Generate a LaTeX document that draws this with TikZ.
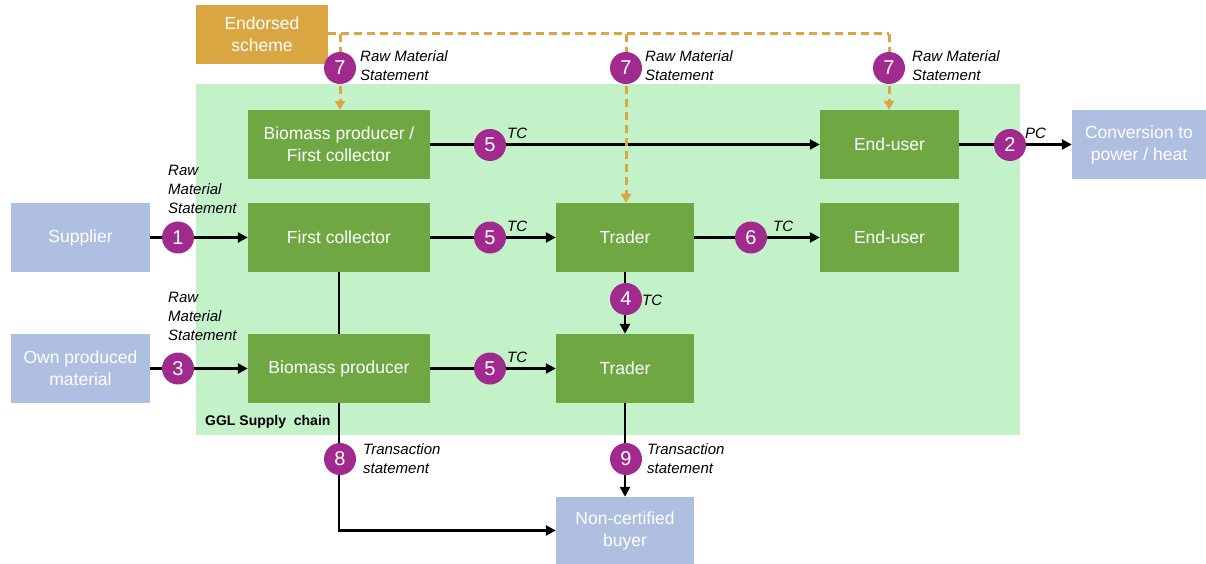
\documentclass[tikz,border=0pt]{standalone}
\usepackage{fontspec}
\setmainfont{Liberation Sans}
\usetikzlibrary{arrows.meta}
\definecolor{gbox}{HTML}{6FA843}
\definecolor{gbg}{HTML}{C3F1C8}
\definecolor{bbox}{HTML}{AEBFE2}
\definecolor{gold}{HTML}{DAA641}
\definecolor{purp}{HTML}{A12A8F}
\tikzset{
  box/.style={rectangle, minimum width=#1, minimum height=69pt, inner sep=0pt, align=center, text=white, font=\fontsize{17.5}{22}\selectfont},
  box/.default=182pt,
  gnode/.style={box=#1, fill=gbox},
  gnode/.default=182pt,
  bnode/.style={box=#1, fill=bbox},
  bnode/.default=139pt,
  num/.style={circle, fill=purp, minimum size=32pt, inner sep=0pt, text=white, font=\fontsize{20}{20}\selectfont},
  lbl/.style={anchor=west, align=left, inner sep=0pt, font=\fontsize{15}{19}\selectfont\itshape},
  arr/.style={line width=2.8pt, -{Triangle[length=10pt,width=10pt]}},
  plain/.style={line width=2.8pt},
  dsh/.style={gold, line width=3pt, dash pattern=on 8pt off 5pt},
  darr/.style={dsh, -{Triangle[length=9pt,width=10pt]}}
}
\begin{document}
\begin{tikzpicture}[x=1pt,y=-1pt]
\useasboundingbox (0,0) rectangle (1206,564);
% background
\fill[gbg] (196,84) rectangle (1020,435);
\node[anchor=west, inner sep=0pt, font=\fontsize{14}{14}\selectfont\bfseries] (ggl) at (205,422) {GGL Supply\ \ chain};
% boxes
\node[box=132pt, minimum height=59pt, fill=gold] (es) at (262,34.5) {Endorsed\\scheme};
\node[gnode] (bpfc) at (339,144.5) {Biomass producer /\\First collector};
\node[gnode=139pt] (eu1) at (889.5,144.5) {End-user};
\node[bnode=134pt] (conv) at (1139,144.5) {Conversion to\\power / heat};
\node[bnode] (sup) at (80.5,237.5) {Supplier};
\node[gnode] (fc) at (339,237.5) {First collector};
\node[gnode=138pt] (tr1) at (625,237.5) {Trader};
\node[gnode=139pt] (eu2) at (889.5,237.5) {End-user};
\node[bnode] (own) at (80.5,368.5) {Own produced\\material};
\node[gnode] (bp) at (339,368.5) {Biomass producer};
\node[gnode=138pt] (tr2) at (625,368.5) {Trader};
\node[bnode=138pt, minimum height=67pt] (ncb) at (625,530.5) {Non-certified\\buyer};
% coordinates for dashed lines
\coordinate (d0) at (es.east |- 0,34);
\coordinate (d1) at (340,34);
\coordinate (d2) at (626,34);
\coordinate (d3) at (889,34);
% connectors
\draw[arr] (bpfc) -- (eu1);
\draw[arr] (eu1) -- (conv);
\draw[arr] (sup) -- (fc);
\draw[arr] (fc) -- (tr1);
\draw[arr] (tr1) -- (eu2);
\draw[arr] (tr1) -- (tr2);
\draw[plain] (fc.south) -- (bp.north);
\draw[arr] (own) -- (bp);
\draw[arr] (bp) -- (tr2);
\draw[arr] (bp.south) |- (ncb.west);
\draw[arr] (tr2) -- (ncb);
\draw[dsh] (d0) -- (d3);
\draw[darr] (d1) -- (d1 |- bpfc.north);
\draw[darr] (d2) -- (d2 |- tr1.north);
\draw[darr] (d3) -- (d3 |- eu1.north);
% numbered circles
\node[num] (n7a) at (340,68) {7};
\node[num] (n7b) at (626,68) {7};
\node[num] (n7c) at (889,68) {7};
\node[num] (n5a) at (490,145) {5};
\node[num] (n2) at (1010,145) {2};
\node[num] (n1) at (178,237.5) {1};
\node[num] (n5b) at (490,237.5) {5};
\node[num] (n6) at (751,237.5) {6};
\node[num] (n4) at (626,299) {4};
\node[num] (n3) at (178,368.5) {3};
\node[num] (n5c) at (490,368.5) {5};
\node[num] (n8) at (340,459) {8};
\node[num] (n9) at (626,459) {9};
% labels
\node[lbl] (l7a) at (360,66) {Raw Material\\Statement};
\node[lbl] (l7b) at (645,66) {Raw Material\\Statement};
\node[lbl] (l7c) at (912,66) {Raw Material\\Statement};
\node[lbl] (l5a) at (507,133) {TC};
\node[lbl] (l2) at (1025,133) {PC};
\node[lbl] (l5b) at (507,226) {TC};
\node[lbl] (l6) at (773,226) {TC};
\node[lbl] (l4) at (642,300) {TC};
\node[lbl] (l5c) at (507,357) {TC};
\node[lbl] (l1) at (168,189) {Raw\\Material\\Statement};
\node[lbl] (l3) at (168,316) {Raw\\Material\\Statement};
\node[lbl] (l8) at (363,459) {Transaction\\statement};
\node[lbl] (l9) at (647,459) {Transaction\\statement};
\end{tikzpicture}
\end{document}
